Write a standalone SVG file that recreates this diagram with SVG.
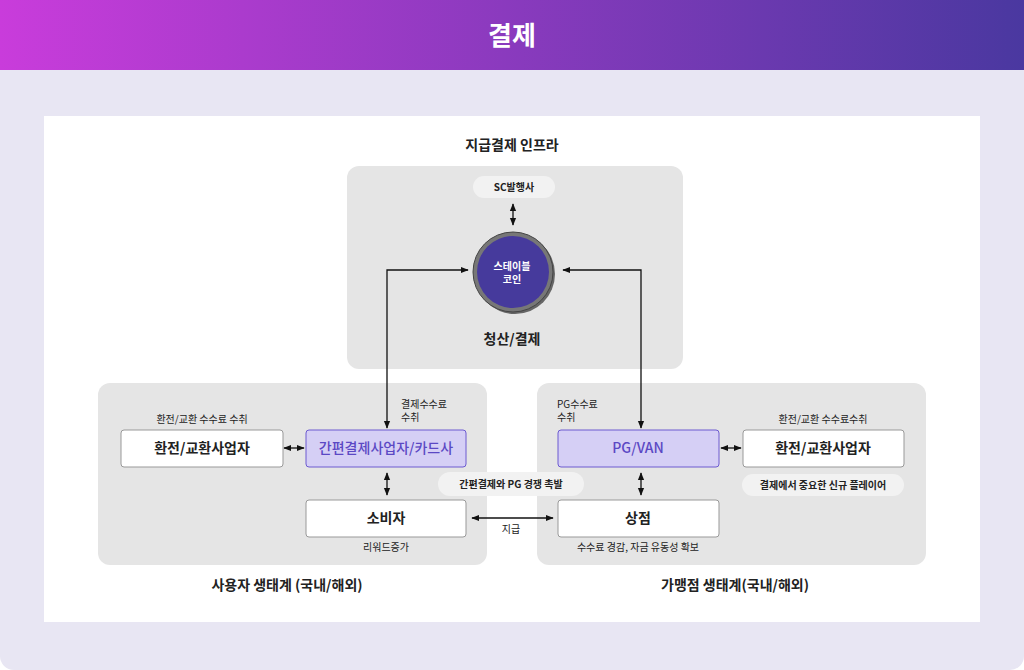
<svg xmlns="http://www.w3.org/2000/svg" width="1024" height="670" viewBox="0 0 1024 670">
<defs>
<linearGradient id="hg" x1="0" x2="1" y1="0" y2="0"><stop offset="0" stop-color="#c93cdb"/><stop offset="1" stop-color="#4a38a0"/></linearGradient>
<marker id="a" viewBox="0 0 10 10" refX="9" refY="5" markerWidth="6" markerHeight="6" orient="auto-start-reverse"><path d="M0,1 L10,5 L0,9 z" fill="#111"/></marker>
<style>
text{font-family:"Noto Sans CJK KR","Noto Sans",sans-serif;fill:#222;text-anchor:middle}
.area{fill:#e5e5e5}
.box{fill:#fff;stroke:#999;stroke-width:1}
.hl{fill:#d5cff5;stroke:#6c5ad0;stroke-width:1}
.pill{fill:#f2f2f2}
.n{font-size:14px;font-weight:700}
.s{font-size:10px}
.t{font-size:14px;font-weight:700}
.c{stroke:#111;stroke-width:1.3;fill:none}
</style>
</defs>
<rect width="1024" height="670" rx="14" fill="#e8e6f3"/>
<path d="M0,0 H1024 V70 H0 Z" fill="url(#hg)"/>
<text x="512" y="45" style="font-size:26px;font-weight:700;fill:#fff">결제</text>
<rect x="44" y="116" width="936" height="506" fill="#fff"/>
<text x="512" y="150" class="t">지급결제 인프라</text>
<rect class="area" x="347" y="166" width="336" height="203" rx="12"/>
<rect class="area" x="98" y="383" width="389" height="182" rx="12"/>
<rect class="area" x="537" y="383" width="389" height="182" rx="12"/>
<text x="512" y="344" class="t">청산/결제</text>
<text x="287" y="590" class="t">사용자 생태계 (국내/해외)</text>
<text x="735" y="590" class="t">가맹점 생태계(국내/해외)</text>
<g id="connectors">
<path class="c" d="M513,204 V225" marker-start="url(#a)" marker-end="url(#a)"/>
<path class="c" d="M387,428 V270 H468" marker-start="url(#a)" marker-end="url(#a)"/>
<path class="c" d="M641,428 V270 H563" marker-start="url(#a)" marker-end="url(#a)"/>
<path class="c" d="M284,448 H304" marker-start="url(#a)" marker-end="url(#a)"/>
<path class="c" d="M721,448 H741" marker-start="url(#a)" marker-end="url(#a)"/>
<path class="c" d="M387,473 V495" marker-start="url(#a)" marker-end="url(#a)"/>
<path class="c" d="M641,473 V495" marker-start="url(#a)" marker-end="url(#a)"/>
<path class="c" d="M472,518 H553" marker-start="url(#a)" marker-end="url(#a)"/>
<text x="511" y="533" class="s">지급</text>
</g>
<g id="sc"><rect x="473" y="176" width="82" height="22" rx="11" class="pill"/><text x="514" y="191" style="font-size:10px;font-weight:700">SC발행사</text></g>
<g id="coin">
<circle cx="515" cy="274" r="40" fill="#666"/>
<circle cx="513" cy="272" r="40" fill="#777" stroke="#444"/>
<circle cx="513" cy="272" r="36" fill="#463a9c"/>
<text x="512" y="270" style="font-size:10px;font-weight:700;fill:#fff">스테이블</text>
<text x="512" y="283" style="font-size:10px;font-weight:700;fill:#fff">코인</text>
</g>
<g id="n1"><text x="202" y="423" class="s">환전/교환 수수료 수취</text><rect class="box" x="121" y="430" width="162" height="37" rx="3"/><text x="202" y="453" class="n">환전/교환사업자</text></g>
<g id="n2"><text x="401" y="408" class="s" style="text-anchor:start">결제수수료</text><text x="401" y="421" class="s" style="text-anchor:start">수취</text><rect class="hl" x="306" y="430" width="160" height="37" rx="3"/><text x="386" y="453" class="n" style="fill:#5b48c4;font-weight:500">간편결제사업자/카드사</text></g>
<g id="n3"><rect class="box" x="306" y="500" width="160" height="37" rx="3"/><text x="386" y="523" class="n">소비자</text><text x="386" y="551" class="s">리워드증가</text></g>
<g id="p1"><rect class="pill" x="438" y="472" width="146" height="24" rx="12"/><text x="511" y="488" style="font-size:10px;font-weight:700">간편결제와 PG 경쟁 촉발</text></g>
<g id="n4"><text x="557" y="408" class="s" style="text-anchor:start">PG수수료</text><text x="557" y="421" class="s" style="text-anchor:start">수취</text><rect class="hl" x="558" y="430" width="161" height="37" rx="3"/><text x="638" y="453" class="n" style="fill:#5b48c4;font-weight:500">PG/VAN</text></g>
<g id="n5"><text x="823" y="423" class="s">환전/교환 수수료수취</text><rect class="box" x="743" y="430" width="161" height="37" rx="3"/><text x="823" y="453" class="n">환전/교환사업자</text><rect class="pill" x="742" y="474" width="162" height="22" rx="11"/><text x="823" y="489" style="font-size:10px;font-weight:700">결제에서 중요한 신규 플레이어</text></g>
<g id="n6"><rect class="box" x="558" y="500" width="161" height="37" rx="3"/><text x="638" y="523" class="n">상점</text><text x="638" y="551" class="s">수수료 경감, 자금 유동성 확보</text></g>
</svg>
